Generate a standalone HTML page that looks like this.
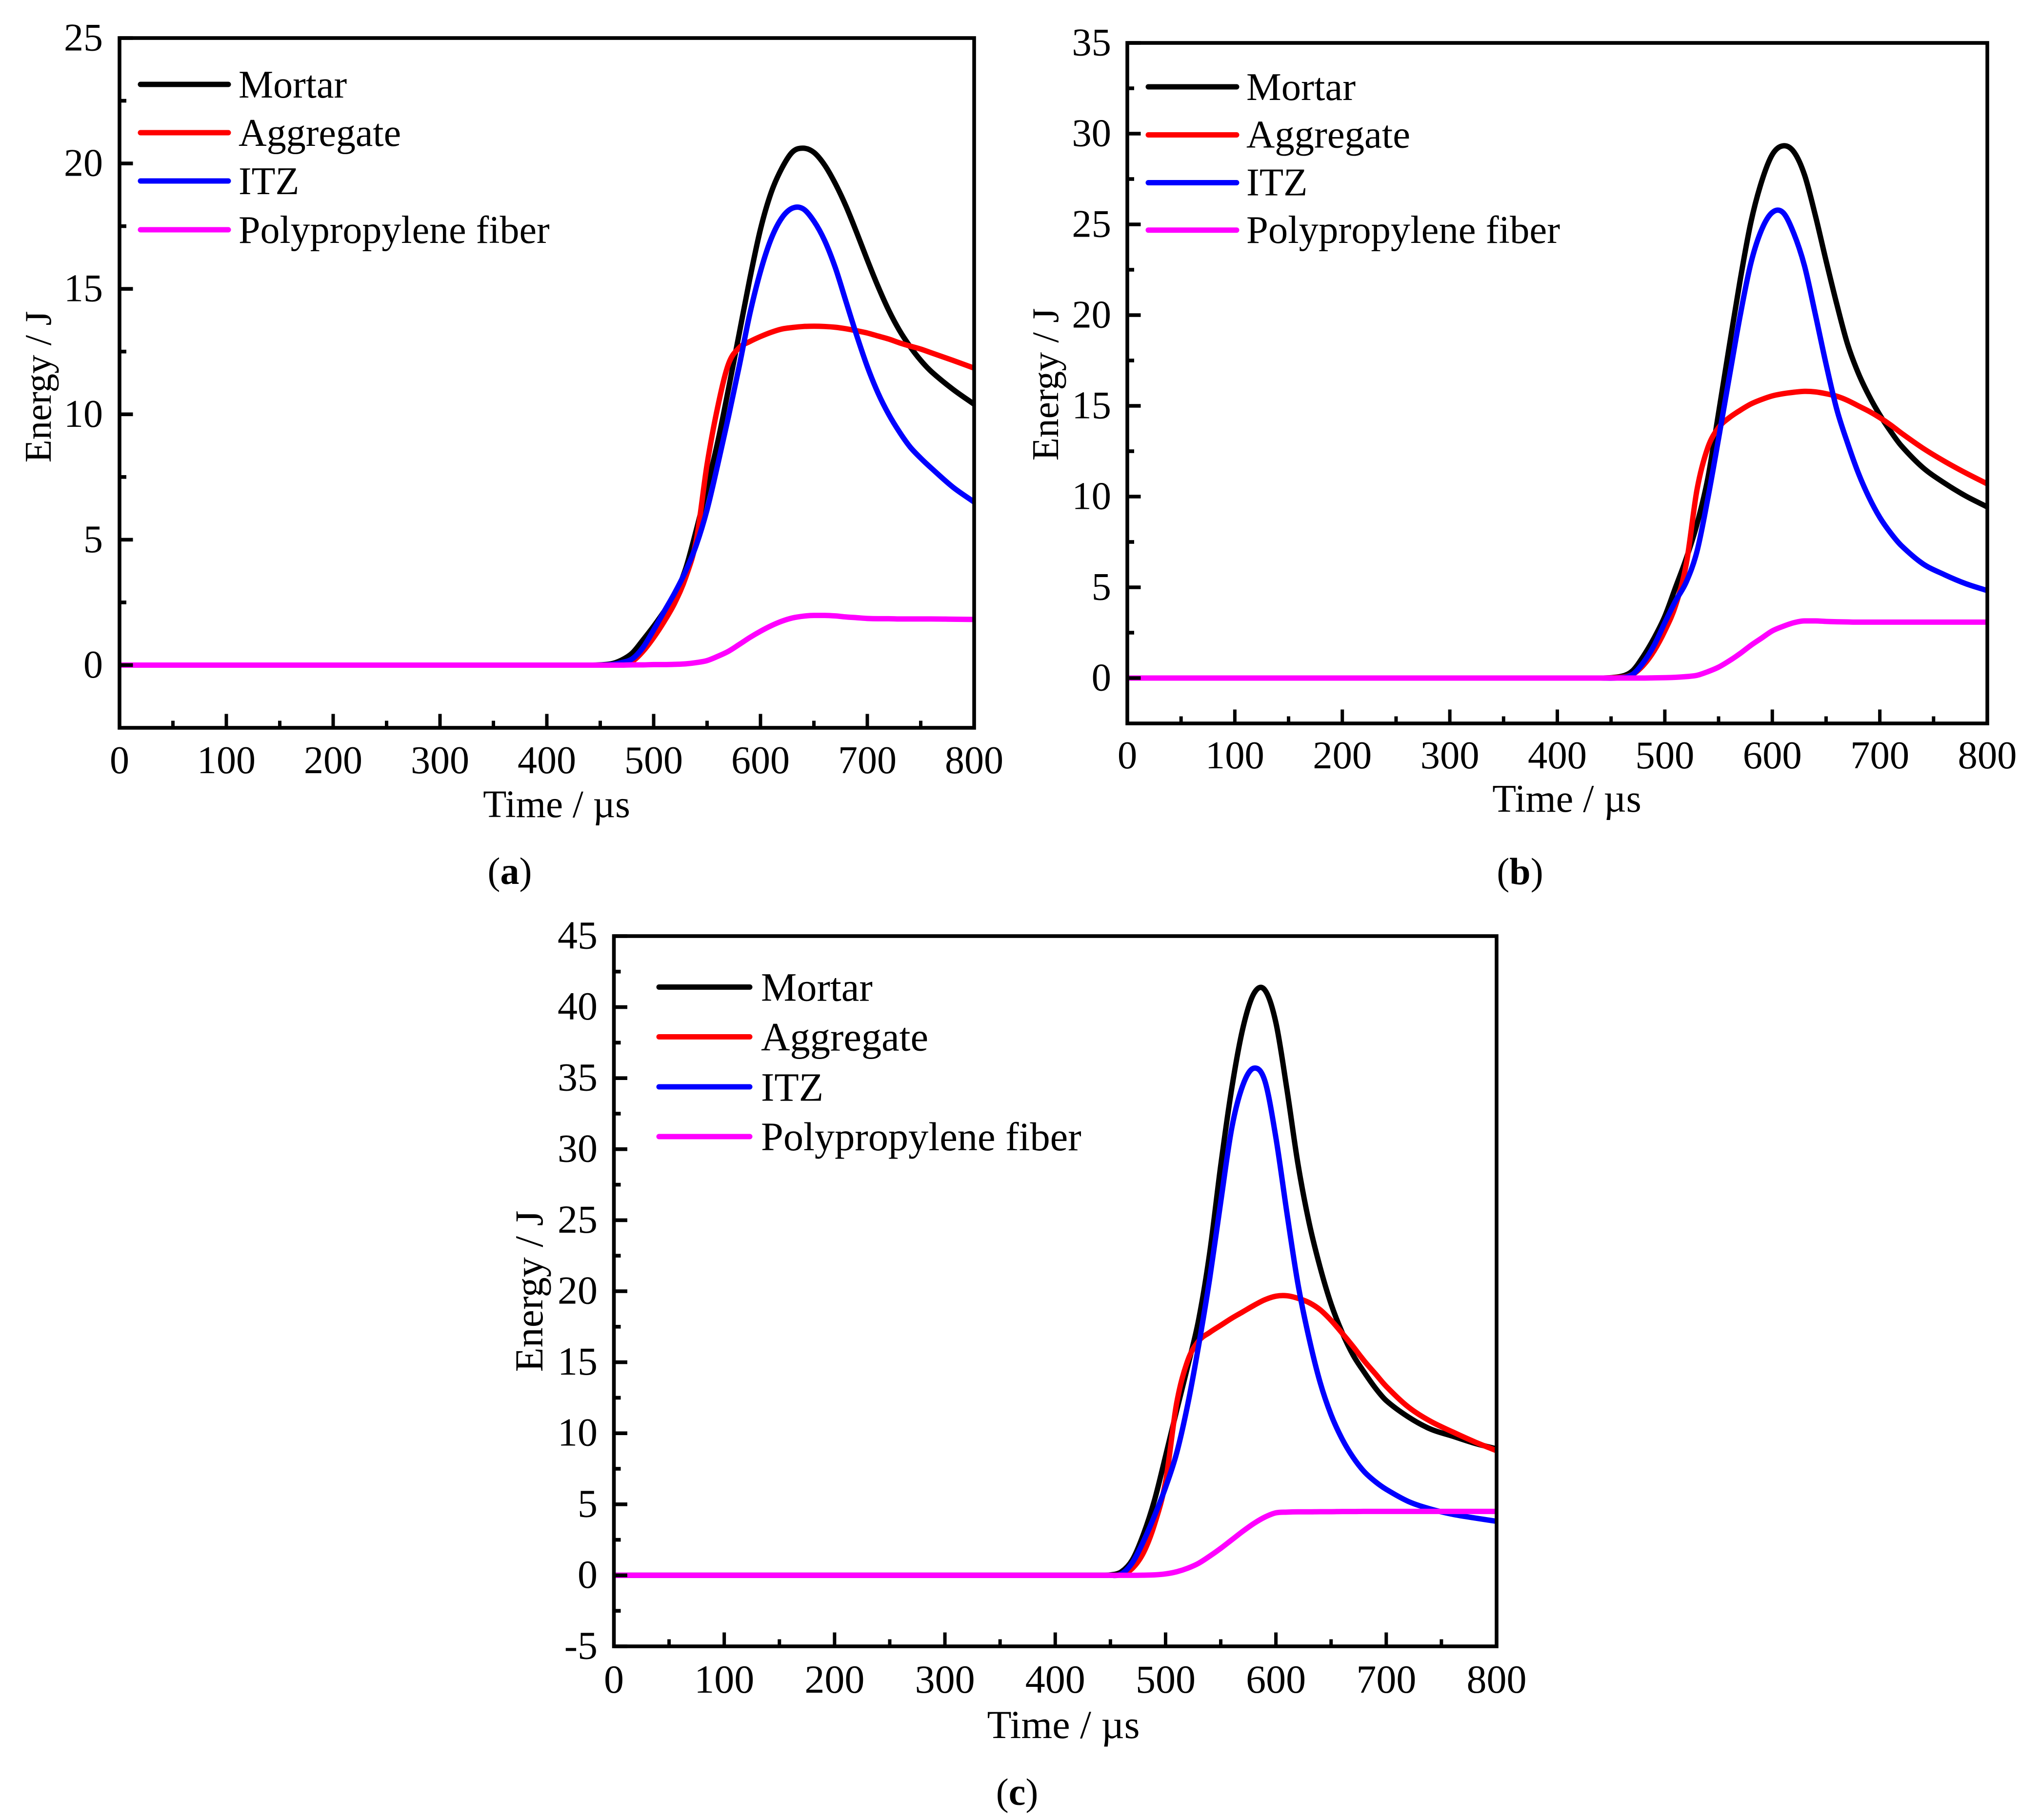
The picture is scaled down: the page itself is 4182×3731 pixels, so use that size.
<!DOCTYPE html>
<html lang="en">
<head>
<meta charset="utf-8">
<title>Energy versus time for mortar, aggregate, ITZ and polypropylene fiber</title>
<style>
html,body{margin:0;padding:0;background:#fff;width:4182px;height:3731px;overflow:hidden}
svg{display:block}
text{font-family:"Liberation Serif","Times New Roman",serif;fill:#000}
</style>
</head>
<body>
<svg id="figure" xmlns="http://www.w3.org/2000/svg" width="4182" height="3731" viewBox="0 0 4182 3731">
  <rect x="0" y="0" width="4182" height="3731" fill="#fff"/>

  <g id="panel-a"></g>
  <g id="panel-b"></g>
  <g id="panel-c"></g>

  <g>
    <text x="1141" y="1675" font-size="79" text-anchor="middle">Time / µs</text>
    <text transform="translate(104 793) rotate(-90)" font-size="77" text-anchor="middle">Energy / J</text>
    <text x="3212" y="1664" font-size="80" text-anchor="middle">Time / µs</text>
    <text transform="translate(2169 788) rotate(-90)" font-size="77.5" text-anchor="middle">Energy / J</text>
    <text x="2180" y="3563" font-size="82" text-anchor="middle">Time / µs</text>
    <text transform="translate(1112 2647) rotate(-90)" font-size="82" text-anchor="middle">Energy / J</text>
  </g>

  <g font-size="80">
    <line x1="288" x2="468" y1="173" y2="173" stroke="#000" stroke-width="11" stroke-linecap="round"/>
    <line x1="288" x2="468" y1="272" y2="272" stroke="#f00" stroke-width="11" stroke-linecap="round"/>
    <line x1="288" x2="468" y1="371" y2="371" stroke="#00f" stroke-width="11" stroke-linecap="round"/>
    <line x1="288" x2="468" y1="471" y2="471" stroke="#f0f" stroke-width="11" stroke-linecap="round"/>
    <text x="489" y="200">Mortar</text>
    <text x="489" y="299">Aggregate</text>
    <text x="489" y="398">ITZ</text>
    <text x="489" y="498">Polypropylene fiber</text>
  </g>

  <g font-size="80.7">
    <line x1="2354" x2="2535" y1="178" y2="178" stroke="#000" stroke-width="11" stroke-linecap="round"/>
    <line x1="2354" x2="2535" y1="276.5" y2="276.5" stroke="#f00" stroke-width="11" stroke-linecap="round"/>
    <line x1="2354" x2="2535" y1="374.5" y2="374.5" stroke="#00f" stroke-width="11" stroke-linecap="round"/>
    <line x1="2354" x2="2535" y1="471.7" y2="471.7" stroke="#f0f" stroke-width="11" stroke-linecap="round"/>
    <text x="2555" y="205">Mortar</text>
    <text x="2555" y="302.5">Aggregate</text>
    <text x="2555" y="400.5">ITZ</text>
    <text x="2555" y="498">Polypropylene fiber</text>
  </g>

  <g font-size="82.4">
    <line x1="1351" x2="1537" y1="2023.5" y2="2023.5" stroke="#000" stroke-width="11" stroke-linecap="round"/>
    <line x1="1351" x2="1537" y1="2125.5" y2="2125.5" stroke="#f00" stroke-width="11" stroke-linecap="round"/>
    <line x1="1351" x2="1537" y1="2228" y2="2228" stroke="#00f" stroke-width="11" stroke-linecap="round"/>
    <line x1="1351" x2="1537" y1="2330" y2="2330" stroke="#f0f" stroke-width="11" stroke-linecap="round"/>
    <text x="1560" y="2051.5">Mortar</text>
    <text x="1560" y="2153.5">Aggregate</text>
    <text x="1560" y="2256.5">ITZ</text>
    <text x="1560" y="2358">Polypropylene fiber</text>
  </g>

  <g font-size="78" text-anchor="middle">
    <text x="1045" y="1812">(<tspan font-weight="bold">a</tspan>)</text>
    <text x="3116" y="1813">(<tspan font-weight="bold">b</tspan>)</text>
    <text x="2085" y="3700">(<tspan font-weight="bold">c</tspan>)</text>
  </g>
</svg>

<script>
/* Shared tick labels */
var xTickLabels = ["0","100","200","300","400","500","600","700","800"];
var xMinorTicks = [50,150,250,350,450,550,650,750];
var yTickLabelsA = ["0","5","10","15","20","25"];
var yTickLabelsB = ["0","5","10","15","20","25","30","35"];
var yTickLabelsC = ["-5","0","5","10","15","20","25","30","35","40","45"];
var yMinorTicksA = [2.5,7.5,12.5,17.5,22.5];
var yMinorTicksB = [2.5,7.5,12.5,17.5,22.5,27.5,32.5];
var yMinorTicksC = [-2.5,2.5,7.5,12.5,17.5,22.5,27.5,32.5,37.5,42.5];

/* Panel (a) series */
var timesA = [0,440,460,470,480,490,500,510,520,530,540,550,560,570,580,590,600,610,620,630,640,650,660,670,680,690,700,710,720,730,740,750,760,780,800];
var mortarA = [0,0,0.05,0.2,0.48,1.0,1.55,2.15,2.8,3.85,5.4,7.1,8.9,11.0,13.2,15.4,17.38,18.84,19.81,20.46,20.61,20.44,19.94,19.2,18.3,17.25,16.15,15.1,14.15,13.35,12.7,12.15,11.7,11.0,10.4];
var aggregateA = [0,0,0,0.03,0.15,0.55,1.1,1.75,2.5,3.5,5.0,8.0,10.3,12.0,12.65,12.9,13.1,13.27,13.4,13.46,13.5,13.51,13.5,13.47,13.41,13.33,13.24,13.12,13.0,12.85,12.72,12.6,12.45,12.15,11.84];
var itzA = [0,0,0.02,0.1,0.25,0.7,1.4,2.15,2.9,3.75,4.8,6.2,8.0,9.9,11.9,14.0,15.7,17.0,17.83,18.22,18.19,17.7,16.93,15.85,14.5,13.15,11.9,10.85,10.0,9.3,8.7,8.25,7.85,7.1,6.5];
var fiberA = [0,0,0,0,0.01,0.01,0.02,0.02,0.03,0.05,0.1,0.18,0.35,0.55,0.82,1.1,1.35,1.57,1.75,1.88,1.95,1.98,1.98,1.96,1.92,1.89,1.86,1.85,1.85,1.84,1.84,1.84,1.84,1.83,1.82];

/* Panel (b) series */
var timesB = [0,440,460,470,480,490,500,510,520,530,540,550,560,570,580,590,600,610,620,630,640,650,660,670,680,690,700,710,720,740,760,780,800];
var mortarB = [0,0,0.1,0.4,1.2,2.2,3.4,5.0,6.6,8.5,11.0,14.6,18.3,21.9,25.1,27.35,28.85,29.33,29.0,27.72,25.5,23.0,20.6,18.4,16.8,15.55,14.5,13.6,12.8,11.6,10.75,10.03,9.43];
var aggregateB = [0,0,0.05,0.2,0.7,1.5,2.6,4.0,6.3,10.4,12.7,13.8,14.35,14.75,15.1,15.35,15.55,15.67,15.75,15.8,15.77,15.67,15.53,15.3,15.0,14.7,14.35,13.95,13.5,12.67,11.95,11.3,10.7];
var itzB = [0,0,0.02,0.2,0.85,1.8,3.05,4.25,5.3,7.0,9.9,13.2,16.6,19.95,22.85,24.7,25.66,25.65,24.5,22.7,20.05,17.3,14.8,12.95,11.3,9.95,8.85,8.0,7.3,6.3,5.7,5.2,4.82];
var fiberB = [0,0,0,0,0,0.01,0.02,0.04,0.08,0.15,0.35,0.6,0.95,1.35,1.8,2.2,2.6,2.85,3.05,3.15,3.15,3.12,3.1,3.09,3.08,3.08,3.08,3.08,3.08,3.08,3.08,3.08,3.08];

/* Panel (c) series */
var timesC = [0,440,450,460,470,480,490,500,510,520,530,540,550,560,570,580,590,600,610,620,630,640,650,660,670,680,690,700,720,740,760,780,800];
var mortarC = [0,0,0.03,0.25,1.1,2.9,5.3,8.4,11.6,14.7,18.0,22.7,28.85,34.3,38.5,40.95,41.2,38.9,34.2,28.95,24.85,21.7,19.1,17.1,15.5,14.3,13.2,12.3,11.15,10.3,9.8,9.3,8.9];
var aggregateC = [0,0,0,0.05,0.5,1.6,3.6,6.6,12.1,15.1,16.5,17.1,17.6,18.1,18.55,19,19.4,19.65,19.68,19.5,19.2,18.7,17.95,17.05,16.1,15.1,14.2,13.3,11.85,10.85,10.1,9.4,8.77];
var itzC = [0,0,0,0.1,0.9,2.4,4.2,6.2,8.6,12,16.2,20.9,26.3,31.5,34.5,35.7,34.8,30.8,25.5,20.5,16.7,13.6,11.3,9.6,8.3,7.3,6.6,6.05,5.2,4.67,4.3,4.04,3.8];
var fiberC = [0,0,0,0,0,0.01,0.03,0.1,0.25,0.5,0.85,1.35,1.9,2.5,3.1,3.65,4.1,4.4,4.45,4.47,4.47,4.48,4.48,4.49,4.49,4.5,4.5,4.5,4.5,4.5,4.5,4.5,4.5];

var SVGNS = "http://www.w3.org/2000/svg";
var SERIES_COLORS = {mortar:"#000000", aggregate:"#ff0000", itz:"#0000ff", fiber:"#ff00ff"};

function makeScale(d0, d1, r0, r1) {
  return function (v) { return r0 + (v - d0) * (r1 - r0) / (d1 - d0); };
}

/* Smooth cubic path through the points using central-difference tangents */
function curvePath(px, py) {
  var n = px.length, i, m = [];
  m[0] = (py[1] - py[0]) / (px[1] - px[0]);
  m[n - 1] = (py[n - 1] - py[n - 2]) / (px[n - 1] - px[n - 2]);
  for (i = 1; i < n - 1; i++) {
    var left = (py[i] - py[i - 1]) / (px[i] - px[i - 1]);
    var right = (py[i + 1] - py[i]) / (px[i + 1] - px[i]);
    m[i] = (left === 0 || right === 0) ? 0 : (py[i + 1] - py[i - 1]) / (px[i + 1] - px[i - 1]);
  }
  var s = "M" + px[0].toFixed(2) + " " + py[0].toFixed(2);
  for (i = 0; i < n - 1; i++) {
    var h = (px[i + 1] - px[i]) / 3;
    s += "C" + (px[i] + h).toFixed(2) + " " + (py[i] + m[i] * h).toFixed(2) + " " +
         (px[i + 1] - h).toFixed(2) + " " + (py[i + 1] - m[i + 1] * h).toFixed(2) + " " +
         px[i + 1].toFixed(2) + " " + py[i + 1].toFixed(2);
  }
  return s;
}

function addSeries(parent, key, times, values, sx, sy) {
  var px = times.map(sx), py = values.map(sy);
  var p = document.createElementNS(SVGNS, "path");
  p.setAttribute("d", curvePath(px, py));
  p.setAttribute("fill", "none");
  p.setAttribute("stroke", SERIES_COLORS[key]);
  p.setAttribute("stroke-width", "11");
  p.setAttribute("stroke-linejoin", "round");
  
  
  p.setAttribute("class", "series-" + key);
  parent.appendChild(p);
}

function addTick(parent, x1, y1, x2, y2, width) {
  var l = document.createElementNS(SVGNS, "line");
  l.setAttribute("x1", x1);
  l.setAttribute("y1", y1);
  l.setAttribute("x2", x2);
  l.setAttribute("y2", y2);
  l.setAttribute("stroke", "#000");
  l.setAttribute("stroke-width", width);
  
  
  parent.appendChild(l);
}

function addLabel(parent, str, x, y, anchor, size) {
  var t = document.createElementNS(SVGNS, "text");
  t.setAttribute("x", x);
  t.setAttribute("y", y);
  t.setAttribute("text-anchor", anchor);
  t.setAttribute("font-size", size);
  
  
  t.textContent = str;
  parent.appendChild(t);
}

function drawPanel(id, box, yDomain, yLabels, yMinors, series) {
  var g = document.getElementById(id);
  var sx = makeScale(0, 800, box.left, box.right);
  var sy = makeScale(yDomain[0], yDomain[1], box.bottom, box.top);

  series.forEach(function (s) { addSeries(g, s.key, series.times, s.values, sx, sy); });

  var frame = document.createElementNS(SVGNS, "rect");
  frame.setAttribute("x", box.left);
  frame.setAttribute("y", box.top);
  frame.setAttribute("width", box.right - box.left);
  frame.setAttribute("height", box.bottom - box.top);
  frame.setAttribute("fill", "none");
  frame.setAttribute("stroke", "#000");
  frame.setAttribute("stroke-width", "7.6");
  
  
  g.appendChild(frame);

  xTickLabels.forEach(function (lab) {
    var x = sx(parseFloat(lab));
    addTick(g, x, box.bottom, x, box.bottom - 28.5, 7);
    addLabel(g, lab, x, box.xLabelY, "middle", box.font);
  });
  xMinorTicks.forEach(function (v) {
    var x = sx(v);
    addTick(g, x, box.bottom, x, box.bottom - 14.5, 7);
  });
  yLabels.forEach(function (lab) {
    var y = sy(parseFloat(lab));
    addTick(g, box.left, y, box.left + 27.5, y, 7.6);
    addLabel(g, lab, box.yLabelX, y + 25.5, "end", box.font);
  });
  yMinors.forEach(function (v) {
    var y = sy(v);
    addTick(g, box.left, y, box.left + 14, y, 7.6);
  });
}

function bundle(times, mortar, aggregate, itz, fiber) {
  var list = [
    {key: "mortar", values: mortar},
    {key: "aggregate", values: aggregate},
    {key: "itz", values: itz},
    {key: "fiber", values: fiber}
  ];
  list.times = times;
  return list;
}

drawPanel("panel-a",
  {left: 245, right: 1997, top: 78, bottom: 1492, xLabelY: 1585, yLabelX: 211, font: 80},
  [-2.5, 25], yTickLabelsA, yMinorTicksA,
  bundle(timesA, mortarA, aggregateA, itzA, fiberA));

drawPanel("panel-b",
  {left: 2311, right: 4074, top: 88, bottom: 1483, xLabelY: 1575, yLabelX: 2278, font: 80.7},
  [-2.5, 35], yTickLabelsB, yMinorTicksB,
  bundle(timesB, mortarB, aggregateB, itzB, fiberB));

drawPanel("panel-c",
  {left: 1258.5, right: 3068, top: 1919, bottom: 3375, xLabelY: 3470, yLabelX: 1225, font: 82},
  [-5, 45], yTickLabelsC, yMinorTicksC,
  bundle(timesC, mortarC, aggregateC, itzC, fiberC));
</script>
</body>
</html>
